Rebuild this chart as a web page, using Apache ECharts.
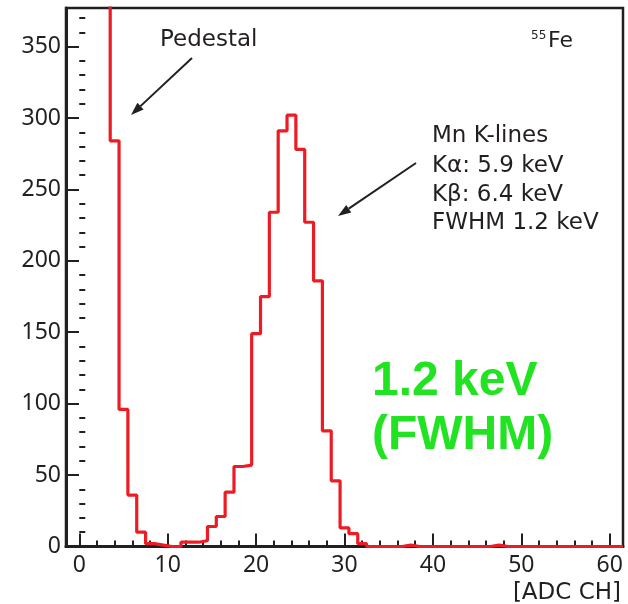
<!DOCTYPE html>
<html>
<head>
<meta charset="utf-8">
<script src="https://cdn.jsdelivr.net/npm/echarts@6/dist/echarts.min.js"></script>
<style>html,body{margin:0;padding:0;background:#fff;}#c{width:628px;height:604px;}</style>
</head>
<body>
<div id="c"></div>
<script>
// ADC channel (bin centres) and counts per bin (bins -1..3 are off-scale pedestal, estimated)
const channels = [-1,0,1,2,3,4,5,6,7,8,9,10,11,12,13,14,15,16,17,18,19,20,21,22,23,24,25,26,27,28,29,30,
  31,32,33,34,35,36,37,38,39,40,41,42,43,44,45,46,47,48,49,50,51,52,53,54,55,56,57,58,59,60,61];
const counts = [1500,2500,3000,2200,900,284,96,36,10,2,1,0,0,3,3,4,14,21,38,56,57,149,175,234,291,302,278,227,186,81,46,13,
  9,2,0,0,0,0,1,0,0,0,0,0,0,0,0,0,1,0,0,0,0,0,0,0,0,0,0,0,0,0,0];
const xMajorTicks = [0,10,20,30,40,50,60];
const xMinorTicks = [2,4,6,8,12,14,16,18,22,24,26,28,32,34,36,38,42,44,46,48,52,54,56,58];
const yMajorTicks = [0,50,100,150,200,250,300,350];
const yMinorTicks = [10,20,30,40,60,70,80,90,110,120,130,140,160,170,180,190,210,220,230,240,260,270,280,290,310,320,330,340,360,370];

const INK = '#231f20';
const FONT = '"Noto Sans", "Open Sans", sans-serif';
const AFONT = '"DejaVu Sans", "Noto Sans", sans-serif';

// histogram outline: each bin spans centre-0.5 .. centre+0.5
const stepData = [];
channels.forEach((c, i) => { stepData.push([c - 0.5, counts[i]]); stepData.push([c + 0.5, counts[i]]); });

function arrow(x1, y1, x2, y2) {
  const dx = x2 - x1, dy = y2 - y1, L = Math.hypot(dx, dy);
  const ux = dx / L, uy = dy / L, hl = 13, hw = 4.5;
  const bx = x2 - ux * hl, by = y2 - uy * hl;
  return [
    {type:'line', shape:{x1, y1, x2: bx, y2: by}, style:{stroke: INK, lineWidth: 2}},
    {type:'polygon', shape:{points:[[x2,y2],[bx - uy*hw, by + ux*hw],[bx + uy*hw, by - ux*hw]]}, style:{fill: INK}}
  ];
}

const chart = echarts.init(document.getElementById('c'), null, {renderer:'canvas'});
chart.setOption({
  animation: false,
  grid: {left: 66, right: 5, top: 8, bottom: 57.5, show: true, borderColor: INK, borderWidth: 2.5, backgroundColor: 'transparent'},
  xAxis: [
    {type:'value', min:-1.5, max:61.5, position:'bottom',
     axisLine:{show:true, onZero:false, lineStyle:{color:INK, width:3}},
     axisTick:{show:true, inside:true, length:13, customValues:xMajorTicks, lineStyle:{color:INK, width:2}},
     axisLabel:{show:true, customValues:xMajorTicks, color:INK, fontSize:23, fontFamily:FONT, margin:7},
     splitLine:{show:false}},
    {type:'value', min:-1.5, max:61.5, position:'bottom',
     axisLine:{show:false},
     axisTick:{show:true, inside:true, length:6, customValues:xMinorTicks, lineStyle:{color:INK, width:2}},
     axisLabel:{show:false}, splitLine:{show:false}}
  ],
  yAxis: [
    {type:'value', min:0, max:377, position:'left',
     axisLine:{show:true, onZero:false, lineStyle:{color:INK, width:3}},
     axisTick:{show:true, inside:true, length:13, customValues:yMajorTicks, lineStyle:{color:INK, width:2}},
     axisLabel:{show:true, customValues:yMajorTicks, color:INK, fontSize:23, fontFamily:FONT, margin:5},
     splitLine:{show:false}},
    {type:'value', min:0, max:377, position:'left', offset:0,
     axisLine:{show:false},
     axisTick:{show:true, inside:true, length:6, customValues:yMinorTicks, lineStyle:{color:INK, width:2}},
     axisLabel:{show:false}, splitLine:{show:false}}
  ],
  series: [{
    type:'line', xAxisIndex:0, yAxisIndex:0, data: stepData, showSymbol:false, symbol:'none',
    clip:true, lineStyle:{color:'#ed1c24', width:3.2}, z:5
  }],
  graphic: [
    {type:'text', x:160, y:40, style:{text:'Pedestal', font:'23px ' + AFONT, fill:INK, verticalAlign:'middle'}},
    ...arrow(192, 58, 131, 115),
    {type:'text', x:531, y:36, style:{text:'55', font:'12px ' + AFONT, fill:INK, verticalAlign:'middle'}},
    {type:'text', x:548, y:41, style:{text:'Fe', font:'22px ' + AFONT, fill:INK, verticalAlign:'middle'}},
    {type:'text', x:432, y:136, style:{text:'Mn K-lines', font:'23px ' + AFONT, fill:INK, verticalAlign:'middle'}},
    {type:'text', x:432, y:166, style:{text:'Kα: 5.9 keV', font:'23px ' + AFONT, fill:INK, verticalAlign:'middle'}},
    {type:'text', x:432, y:195, style:{text:'Kβ: 6.4 keV', font:'23px ' + AFONT, fill:INK, verticalAlign:'middle'}},
    {type:'text', x:432, y:223, style:{text:'FWHM 1.2 keV', font:'23px ' + AFONT, fill:INK, verticalAlign:'middle'}},
    ...arrow(416, 163, 338, 216),
    {type:'text', x:372, y:382, style:{text:'1.2 keV', font:'bold 48px "Liberation Sans", Arial, sans-serif', fill:'#22e322', verticalAlign:'middle'}},
    {type:'text', x:372, y:436, style:{text:'(FWHM)', font:'bold 48px "Liberation Sans", Arial, sans-serif', fill:'#22e322', verticalAlign:'middle'}},
    {type:'text', x:621, y:593, style:{text:'[ADC CH]', font:'23px ' + AFONT, fill:INK, align:'right', verticalAlign:'middle'}}
  ]
});
</script>
</body>
</html>
